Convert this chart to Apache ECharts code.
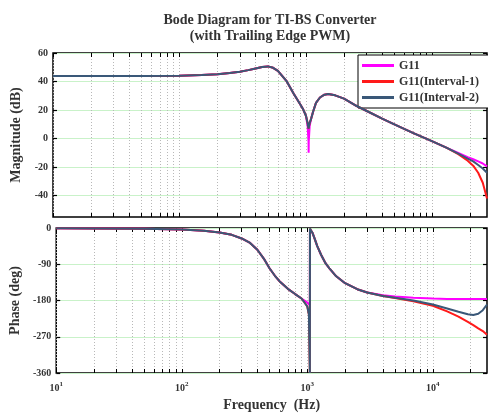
<!DOCTYPE html>
<html>
<head>
<meta charset="utf-8">
<script src="https://cdn.jsdelivr.net/npm/echarts@6/dist/echarts.min.js"></script>
<style>
  html, body { margin: 0; padding: 0; background: #fff; }
  #chart { width: 488px; height: 415px; }
</style>
</head>
<body>
<div id="chart"></div>
<script>
// Frequency points (Hz) shared by every trace
const freqHz = [10, 20, 50, 100, 150, 200, 250, 300, 350, 400, 450, 500, 550, 600, 700, 800, 900, 950, 1000, 1030,
  1048, 1050, 1052, 1070, 1100, 1140, 1200, 1290, 1400, 1500, 1700, 2000, 2500, 3000, 4000, 5000, 7000, 10000,
  13000, 16000, 19000, 21000, 23000, 25000, 27000];

// Magnitude (dB)
const magG11 = [43.8, 43.8, 43.9, 44.1, 44.5, 45.1, 45.9, 46.9, 48.0, 49.2, 50.2, 50.6, 49.6, 47.5, 40.5, 31.5, 24, 20.5, 16, 9,
  -2, -10, -2, 9, 14, 19, 25, 28.8, 30.8, 31.2, 30.3, 28, 23, 19.5, 14, 10, 4, -2,
  -6.5, -10, -13, -14.5, -16, -17.5, -19.5];
const magInt1 = [43.8, 43.8, 43.9, 44.1, 44.5, 45.1, 45.9, 46.9, 48.0, 49.2, 50.2, 50.6, 49.6, 47.5, 40.5, 31.5, 24, 20.5, 16, 11,
  7, 6.5, 7, 11, 14, 19, 25, 28.8, 30.8, 31.2, 30.3, 28, 23, 19.5, 14, 10, 4, -2,
  -6.5, -11, -15.5, -19, -24, -31, -42];
const magInt2 = [43.8, 43.8, 43.9, 44.1, 44.5, 45.1, 45.9, 46.9, 48.0, 49.2, 50.2, 50.6, 49.6, 47.5, 40.5, 31.5, 24, 20.5, 16, 11,
  7, 6.5, 7, 11, 14, 19, 25, 28.8, 30.8, 31.2, 30.3, 28, 23, 19.5, 14, 10, 4, -2,
  -6.5, -10.5, -14, -16, -18.5, -21, -24];

// Phase (deg)
const phG11 = [-0.5, -1, -2, -4, -7, -11, -17, -26, -37, -54, -76, -100, -118, -132, -151, -164, -175, -180, -185, -188,
  -192, -3, -3, -6, -12, -25, -45, -67, -88, -100, -120, -137, -152, -160, -167, -170, -173, -175,
  -176, -176, -176, -176, -176, -176, -176];
const phInt1 = [-0.5, -1, -2, -4, -7, -11, -17, -26, -37, -54, -76, -100, -118, -132, -151, -164, -175, -185, -195, -215,
  -360, -1, -2, -6, -12, -25, -45, -67, -88, -100, -120, -137, -152, -160, -169, -174, -182, -193,
  -207, -220, -233, -241, -249, -256, -265];
const phInt2 = [-0.5, -1, -2, -4, -7, -11, -17, -26, -37, -54, -76, -100, -118, -132, -151, -164, -175, -185, -195, -215,
  -360, -1, -2, -6, -12, -25, -45, -67, -88, -100, -120, -137, -152, -160, -169, -173, -180, -190,
  -200, -208, -214, -216, -213, -204, -190];

// Axis ticks
const freqTicks = [10, 20, 30, 40, 50, 60, 70, 80, 90, 100, 200, 300, 400, 500, 600, 700, 800, 900,
  1000, 2000, 3000, 4000, 5000, 6000, 7000, 8000, 9000, 10000, 20000];
const freqLabels = [10, 100, 1000, 10000];
const magTicks = [-40, -20, 0, 20, 40, 60];
const phaseTicks = [-360, -270, -180, -90, 0];

const seriesNames = ['G11', 'G11(Interval-1)', 'G11(Interval-2)'];
const seriesColors = ['#ff00ff', '#ff1a1a', '#3a5878'];

const FONT = 'Liberation Serif';
const TXT = '#333';
const pair = (ys) => freqHz.map((f, i) => [f, ys[i]]);

function xAxisDef(gridIndex, opts) {
  return Object.assign({
    type: 'log', logBase: 10, gridIndex, min: 10, max: 27000,
    axisLine: { show: false, onZero: false },
    axisTick: { show: true, inside: true, length: 4, customValues: freqTicks, lineStyle: { color: '#000', width: 1 } },
    axisLabel: { show: false },
    splitLine: { show: false },
    minorTick: { show: false }
  }, opts);
}
const xLabelFmt = (v) => '10{s|' + Math.round(Math.log10(v)) + '}';
const xGridLine = { show: true, lineStyle: { color: '#b8b8b8', type: [1, 2], width: 1 } };

function yAxisDef(gridIndex, min, max, ticks, opts) {
  return Object.assign({
    type: 'value', gridIndex, min, max,
    axisLine: { show: false, onZero: false },
    axisTick: { show: true, inside: true, length: 4, customValues: ticks, lineStyle: { color: '#000', width: 1.2 } },
    axisLabel: { show: false },
    splitLine: { show: false }
  }, opts);
}
const yLabel = (ticks) => ({
  show: true, customValues: ticks, margin: 5,
  fontFamily: FONT, fontWeight: 'bold', fontSize: 10, color: TXT
});
const yGridLine = { show: true, lineStyle: { color: '#c9f2c9', width: 1 } };
const yName = (text, gap) => ({
  name: text, nameLocation: 'middle', nameGap: gap, nameRotate: 90,
  nameTextStyle: { fontFamily: FONT, fontWeight: 'bold', fontSize: 14, color: TXT }
});

const series = [];
seriesNames.forEach((name, k) => {
  const mags = [magG11, magInt1, magInt2][k];
  const phs = [phG11, phInt1, phInt2][k];
  series.push({
    name, type: 'line', xAxisIndex: 0, yAxisIndex: 0, data: pair(mags),
    showSymbol: false, symbol: 'none', smooth: false, lineStyle: { width: 2, color: seriesColors[k] },
    itemStyle: { color: seriesColors[k] }, animation: false, z: 3 + k
  });
  series.push({
    name, type: 'line', xAxisIndex: 2, yAxisIndex: 2, data: pair(phs),
    showSymbol: false, symbol: 'none', smooth: false, lineStyle: { width: 2, color: seriesColors[k] },
    itemStyle: { color: seriesColors[k] }, animation: false, z: 3 + k
  });
});

const chart = echarts.init(document.getElementById('chart'), null, { renderer: 'canvas' });
chart.setOption({
  backgroundColor: '#fff',
  animation: false,
  title: {
    text: 'Bode Diagram for TI-BS Converter\n(with Trailing Edge PWM)',
    left: 270, top: 12, textAlign: 'center', padding: 0,
    textStyle: { fontFamily: FONT, fontWeight: 'bold', fontSize: 14, lineHeight: 16, color: TXT }
  },
  legend: {
    data: seriesNames, orient: 'vertical', left: 358, top: 55,
    icon: 'rect', itemWidth: 32, itemHeight: 3, itemGap: 3,
    backgroundColor: '#fff', borderColor: '#000', borderWidth: 1, borderRadius: 0,
    padding: [4, 30, 4, 4],
    textStyle: { fontFamily: FONT, fontWeight: 'bold', fontSize: 12, color: TXT, lineHeight: 13 }
  },
  grid: [
    { left: 53, right: 1, top: 53, height: 164, show: true, borderColor: '#000', borderWidth: 1.5, backgroundColor: '#fff' },
    { left: 53, right: 1, top: 228, height: 145, show: true, borderColor: '#000', borderWidth: 1.5, backgroundColor: '#fff' }
  ],
  xAxis: [
    xAxisDef(0, { position: 'bottom', splitLine: xGridLine }),
    xAxisDef(0, { position: 'top' }),
    xAxisDef(1, {
      position: 'bottom', splitLine: xGridLine,
      axisLabel: {
        show: true, customValues: freqLabels, formatter: xLabelFmt, margin: 8,
        fontFamily: FONT, fontWeight: 'bold', fontSize: 10, color: TXT,
        rich: { s: { fontFamily: FONT, fontWeight: 'bold', fontSize: 7, color: TXT, padding: [0, 0, 7, 0] } }
      },
      name: 'Frequency  (Hz)', nameLocation: 'middle', nameGap: 25,
      nameTextStyle: { fontFamily: FONT, fontWeight: 'bold', fontSize: 14, color: TXT }
    }),
    xAxisDef(1, { position: 'top' })
  ],
  yAxis: [
    yAxisDef(0, -55, 60, magTicks, Object.assign({ position: 'left', axisLabel: yLabel(magTicks), splitLine: yGridLine }, yName('Magnitude (dB)', 27))),
    yAxisDef(0, -55, 60, magTicks, { position: 'right' }),
    yAxisDef(1, -360, 0, phaseTicks, Object.assign({ position: 'left', axisLabel: yLabel(phaseTicks), splitLine: yGridLine }, yName('Phase (deg)', 34))),
    yAxisDef(1, -360, 0, phaseTicks, { position: 'right' })
  ],
  series
});
</script>
</body>
</html>
